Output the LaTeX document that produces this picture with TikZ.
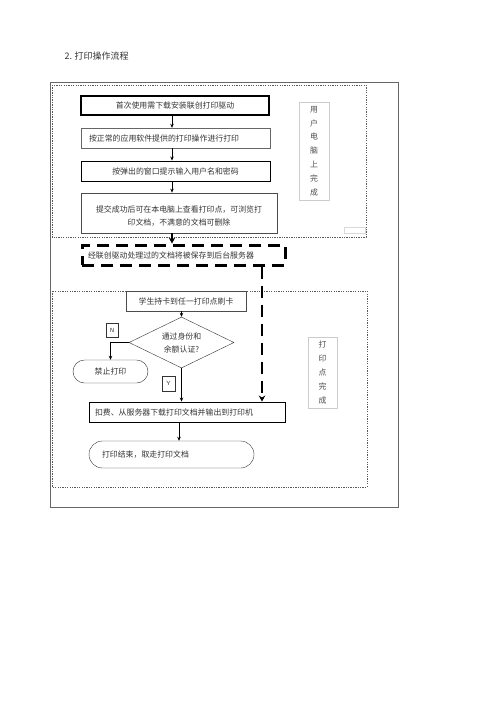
\documentclass[tikz,border=0pt]{standalone}
\usepackage{fontspec}
\newfontfamily\cjk{Noto Sans CJK SC}
\usetikzlibrary{shapes.geometric, shapes.misc, arrows.meta}

\begin{document}
\begin{tikzpicture}[x=1pt, y=-1pt,
    every node/.style={font=\cjk\fontsize{7.9}{13}\selectfont, text=black!80},
    stepbox/.style={draw, minimum height=20pt, inner sep=0pt, align=center},
    sidebox/.style={draw=black!20, inner sep=0pt, align=center, text=black!70,
                    font=\cjk\fontsize{7.9}{13.8}\selectfont},
    frame/.style={draw=black!65, line width=0.9pt, dash pattern=on 1.3pt off 1.1pt},
    endcap/.style={rounded rectangle, draw=black!80, inner sep=0pt, align=left},
    check/.style={diamond, draw=black!80, minimum width=105pt, minimum height=51pt,
                  aspect=2, inner sep=0pt, align=center},
    tag/.style={draw=black!80, inner sep=0pt, font=\sffamily\fontsize{6}{6}\selectfont},
    arr/.style={-{Stealth[length=4pt, width=3.5pt]}, line width=0.9pt},
    bigarr/.style={-{Stealth[length=6pt, width=6.5pt]}, line width=2.6pt}
  ]
  \useasboundingbox (0,0) rectangle (500,707);

  \node[anchor=west, font=\cjk\fontsize{9}{9}\selectfont] (title) at (61,56) {2. 打印操作流程};
  \draw[black!60, line width=0.6pt] (50,82) rectangle (398,507);
  \draw[frame] (52,85) rectangle (366,237);
  \draw[frame] (52,291) rectangle (367,487);

  \node[stepbox, line width=1.4pt, minimum width=188pt, minimum height=19pt] (drv) at (175,105.5)
    {首次使用需下载安装联创打印驱动};
  \node[stepbox, draw=black!60, minimum width=189pt, text width=173pt, align=left] (app) at (175.5,138)
    {按正常的应用软件提供的打印操作进行打印};
  \node[stepbox, line width=0.9pt, minimum width=189pt] (login) at (175.5,171)
    {按弹出的窗口提示输入用户名和密码};
  \node[stepbox, draw=black!70, line width=0.8pt, minimum width=196pt, minimum height=40pt,
        text width=186pt, text depth=8pt] (submit) at (179,213)
    {提交成功后可在本电脑上查看打印点，可浏览打\\印文档，不满意的文档可删除};
  \node[sidebox, minimum width=30pt, minimum height=98pt] (userside) at (314,151)
    {用\\户\\电\\脑\\上\\完\\成};
  \node[draw=black!15, minimum width=21pt, minimum height=6pt, inner sep=0pt] (blank) at (354.5,230) {};

  \node[stepbox, line width=3pt, dash pattern=on 12pt off 7pt, minimum width=203pt,
        text width=191pt, align=left] (server) at (183.5,255)
    {经联创驱动处理过的文档将被保存到后台服务器};

  \node[stepbox, draw=black!70, minimum width=120pt] (card) at (186,301) {学生持卡到任一打印点刷卡};
  \node[check] (auth) at (181.5,342.5) {通过身份和\\余额认证?};
  \node[tag, minimum width=12pt, minimum height=14pt] (no) at (112,330) {N};
  \node[endcap, minimum width=75pt, minimum height=23pt] (stop) at (110.5,371.5) {禁止打印};
  \node[tag, minimum width=13pt, minimum height=15pt] (yes) at (168.5,383.5) {Y};
  \node[stepbox, line width=0.9pt, minimum width=196pt, text width=184pt, align=left] (fetch) at (187,412)
    {扣费、从服务器下载打印文档并输出到打印机};
  \node[endcap, minimum width=165pt, minimum height=27pt, text width=139pt] (done) at (171.5,454.5)
    {打印结束，取走打印文档};
  \node[sidebox, minimum width=29pt, minimum height=71pt] (printside) at (322.5,372.5)
    {打\\印\\点\\完\\成};

  \coordinate (col) at (172,0);
  \coordinate (srv) at (262,0);
  \coordinate (out) at (179,0);

  \draw[arr] (drv.south -| col) -- (app.north -| col);
  \draw[arr] (app.south -| col) -- (login.north -| col);
  \draw[arr] (login.south -| col) -- (submit.north -| col);
  \draw[bigarr, line width=2pt] (submit.south -| col) -- (server.north -| col);
  \draw[bigarr, dash pattern=on 12pt off 7pt] (server.south -| srv) -- (fetch.north -| srv);
  \draw[arr] (auth.north |- card.south) -- (auth.north);
  \draw[arr] (auth.west) -| (stop.north);
  \draw[arr] (auth.south) -- (fetch.north -| auth.south);
  \draw[arr] (fetch.south -| out) -- (done.north -| out);
\end{tikzpicture}
\end{document}
